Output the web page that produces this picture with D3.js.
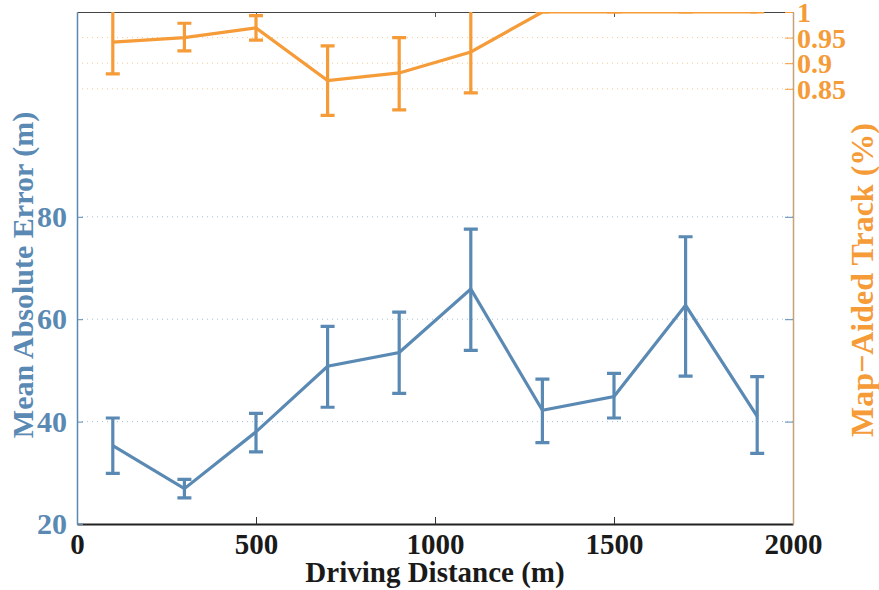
<!DOCTYPE html>
<html>
<head>
<meta charset="utf-8">
<script src="https://cdn.jsdelivr.net/npm/d3@7"></script>
<style>
  body { margin: 0; background: #fff; }
  svg text { font-family: "Liberation Serif", "Times New Roman", serif; font-weight: bold; }
</style>
</head>
<body>
<div id="chart"></div>
<script>
// distances along the route (m)
const distances = [100, 300, 500, 700, 900, 1100, 1300, 1500, 1700, 1900];

// mean absolute error (m), with error bar ends
const maeMean = [35.3, 26.9, 38.0, 50.8, 53.5, 65.9, 42.2, 44.9, 62.7, 41.0];
const maeLow  = [29.9, 25.1, 34.1, 42.8, 45.5, 53.9, 35.9, 40.7, 48.9, 33.8];
const maeHigh = [40.7, 28.7, 41.6, 58.6, 61.4, 77.6, 48.3, 49.4, 76.1, 48.8];

// map-aided track ratio, with error bar ends
const trackMean = [0.941, 0.950, 0.969, 0.866, 0.881, 0.922, 1.0, 1.0, 1.0, 1.0];
const trackLow  = [0.879, 0.924, 0.945, 0.798, 0.809, 0.842, 1.0, 1.0, 1.0, 1.0];
const trackHigh = [1.02, 0.978, 0.993, 0.934, 0.950, 1.02, 1.0, 1.0, 1.0, 1.0];

const xTicks = [0, 500, 1000, 1500, 2000];
const leftTicks = [20, 40, 60, 80];
const rightTicks = [0.85, 0.9, 0.95, 1];

const drawChart = () => {
    const W = 879, H = 590;
    const margin = { top: 12, right: 86, bottom: 66, left: 77 };
    const width = W - margin.left - margin.right;
    const height = H - margin.top - margin.bottom;

    const blue = "#5a8ab4";
    const orange = "#f59b38";

    const x = d3.scaleLinear().domain([0, 2000]).range([0, width]);
    const yL = d3.scaleLinear().domain([20, 120]).range([height, 0]);
    const yR = d3.scaleLinear().domain([0, 1]).range([height, 0]);

    const svg = d3.select("#chart")
        .append("svg")
        .attr("width", W)
        .attr("height", H)
        .append("g")
        .attr("transform", `translate(${margin.left},${margin.top})`);

    svg.append("clipPath")
        .attr("id", "plotclip")
        .append("rect")
        .attr("x", 0).attr("y", 0)
        .attr("width", width).attr("height", height);

    // dotted gridlines
    svg.append("g")
        .selectAll("line")
        .data(leftTicks.slice(1))
        .join("line")
        .attr("x1", 0).attr("x2", width)
        .attr("y1", d => yL(d)).attr("y2", d => yL(d))
        .attr("stroke", blue)
        .attr("stroke-opacity", 0.55)
        .attr("stroke-dasharray", "1,4");

    svg.append("g")
        .selectAll("line")
        .data(rightTicks.slice(0, 3))
        .join("line")
        .attr("x1", 0).attr("x2", width)
        .attr("y1", d => yR(d)).attr("y2", d => yR(d))
        .attr("stroke", orange)
        .attr("stroke-opacity", 0.55)
        .attr("stroke-dasharray", "1,4");

    // bottom axis
    const xAxis = svg.append("g")
        .attr("transform", `translate(0,${height})`)
        .call(d3.axisBottom(x).tickValues(xTicks).tickSize(-7).tickPadding(14).tickSizeOuter(0)
            .tickFormat(d3.format("d")));
    xAxis.select(".domain").attr("stroke", "#222").attr("stroke-width", 2);
    xAxis.selectAll(".tick line").attr("stroke", "#333");
    xAxis.selectAll("text")
        .attr("font-size", "29px")
        .attr("fill", "#1a1a1a")
        .attr("dy", "0.55em");

    // top axis ticks
    const xTop = svg.append("g")
        .call(d3.axisTop(x).tickValues(xTicks.slice(1, 4)).tickSize(-5).tickFormat("").tickSizeOuter(0));
    xTop.select(".domain").attr("stroke", "#444").attr("stroke-width", 1.2);
    xTop.selectAll(".tick line").attr("stroke", "#555");

    // left axis
    const yAxisL = svg.append("g")
        .call(d3.axisLeft(yL).tickValues(leftTicks).tickSize(-6).tickPadding(10).tickSizeOuter(0));
    yAxisL.select(".domain").attr("stroke", blue).attr("stroke-width", 1.5);
    yAxisL.selectAll(".tick line").attr("stroke", blue);
    yAxisL.selectAll("text")
        .attr("font-size", "30px")
        .attr("fill", blue);

    // left axis ticks mirrored on the right edge
    svg.append("g")
        .attr("transform", `translate(${width},0)`)
        .call(d3.axisRight(yL).tickValues(leftTicks.slice(1)).tickSize(-8).tickFormat("").tickSizeOuter(0))
        .call(g => g.select(".domain").remove())
        .selectAll(".tick line").attr("stroke", blue);

    // right axis
    const yAxisR = svg.append("g")
        .attr("transform", `translate(${width},0)`)
        .call(d3.axisRight(yR).tickValues(rightTicks).tickSize(-8).tickPadding(4).tickSizeOuter(0)
            .tickFormat(d => String(+d.toFixed(2))));
    yAxisR.select(".domain").attr("stroke", "#c4a27c").attr("stroke-width", 1.5);
    yAxisR.selectAll(".tick line").attr("stroke", orange);
    yAxisR.selectAll("text")
        .attr("font-size", "28px")
        .attr("fill", orange)
        .attr("dy", "0.34em");

    // series
    const plot = svg.append("g").attr("clip-path", "url(#plotclip)");

    const drawSeries = (mean, low, high, y, color) => {
        const rows = distances.map((d, i) => ({ d, m: mean[i], lo: low[i], hi: high[i] }));
        const cap = 7;
        const g = plot.append("g")
            .attr("stroke", color)
            .attr("stroke-width", 3.2)
            .attr("fill", "none");
        g.selectAll(".bar")
            .data(rows)
            .join("path")
            .attr("class", "bar")
            .attr("d", r =>
                `M${x(r.d)},${y(r.lo)}V${y(r.hi)}` +
                `M${x(r.d) - cap},${y(r.lo)}H${x(r.d) + cap}` +
                `M${x(r.d) - cap},${y(r.hi)}H${x(r.d) + cap}`);
        g.append("path")
            .datum(rows)
            .attr("d", d3.line().x(r => x(r.d)).y(r => y(r.m)));
    };

    drawSeries(maeMean, maeLow, maeHigh, yL, blue);
    drawSeries(trackMean, trackLow, trackHigh, yR, orange);

    // axis titles
    svg.append("text")
        .attr("x", width / 2)
        .attr("y", height + 58)
        .attr("text-anchor", "middle")
        .attr("font-size", "29px")
        .attr("fill", "#1a1a1a")
        .text("Driving Distance (m)");

    svg.append("text")
        .attr("transform", `translate(${33 - margin.left},${275 - margin.top}) rotate(-90)`)
        .attr("text-anchor", "middle")
        .attr("font-size", "30px")
        .attr("fill", blue)
        .text("Mean Absolute Error (m)");

    svg.append("text")
        .attr("transform", `translate(${873 - margin.left},${280 - margin.top}) rotate(-90)`)
        .attr("text-anchor", "middle")
        .attr("font-size", "32px")
        .attr("fill", orange)
        .text("Map\u2212Aided Track (%)");
};

drawChart();
</script>
</body>
</html>
